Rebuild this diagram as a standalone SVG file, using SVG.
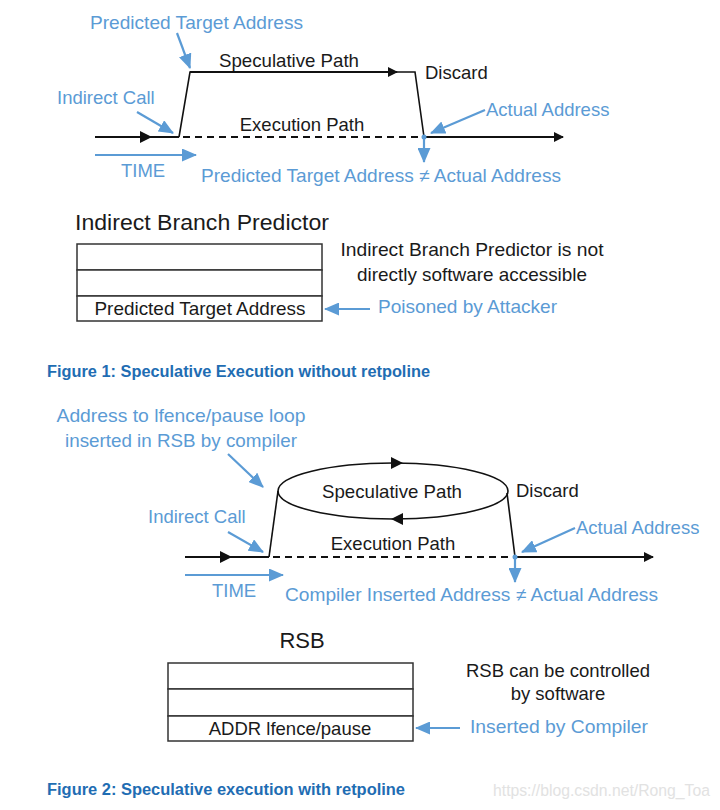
<svg xmlns="http://www.w3.org/2000/svg" width="720" height="810" viewBox="0 0 720 810">
<defs>
<style>
text{font-family:"Liberation Sans","DejaVu Sans",sans-serif;font-size:18.5px;fill:#1a1a1a}
.b{fill:#5b9bd5}
.t{font-size:22px}
.cap{font-weight:bold;font-size:16px;fill:#1f6db3}
.wm{font-size:16px;fill:#e2e2e2}
.k{stroke:#111;stroke-width:2;fill:none}
.kt{stroke:#111;stroke-width:1.6;fill:none}
.d{stroke:#111;stroke-width:2;fill:none;stroke-dasharray:7,5}
.bl{stroke:#5b9bd5;stroke-width:2.2;fill:none;marker-end:url(#ba)}
.ka{marker-end:url(#kb)}
.box{fill:#fff;stroke:#333;stroke-width:1.5}
</style>
<marker id="kb" markerWidth="10" markerHeight="10" refX="9" refY="5" orient="auto" markerUnits="userSpaceOnUse" viewBox="0 0 10 10"><path d="M0,0 L10,5 L0,10 z" fill="#111"/></marker>
<marker id="ba" markerWidth="15" markerHeight="13" refX="14" refY="6.5" orient="auto" markerUnits="userSpaceOnUse" viewBox="0 0 15 13"><path d="M0,0 L15,6.5 L0,13 z" fill="#5b9bd5"/></marker>
</defs>

<g id="connectors">
<!-- Figure 1 -->
<line class="k" x1="95" y1="137" x2="179" y2="137"/>
<path d="M140,131 L152,137 L140,143 z" fill="#111"/>
<polyline class="kt" points="179,137 190,72 205,72"/>
<line class="k ka" x1="190" y1="72" x2="397" y2="72"/>
<polyline class="kt" points="395,72 415,72 424,137"/>
<line class="d" x1="183" y1="137" x2="424" y2="137"/>
<line class="k ka" x1="424" y1="137" x2="563" y2="137"/>
<line class="bl" x1="177" y1="33" x2="190" y2="68"/>
<line class="bl" x1="137" y1="112" x2="173" y2="133"/>
<line class="bl" x1="485" y1="110" x2="431" y2="133"/>
<line class="bl" x1="424" y1="137" x2="424" y2="162"/>
<circle cx="424" cy="137" r="2.5" fill="#5b9bd5"/>
<line class="bl" x1="95" y1="155" x2="196" y2="155"/>
<line class="bl" x1="370" y1="309" x2="325" y2="309"/>
<!-- Figure 2 -->
<line class="k" x1="185" y1="557" x2="269" y2="557"/>
<path d="M220,551 L232,557 L220,563 z" fill="#111"/>
<polyline class="kt" points="269,557 278,491"/>
<ellipse cx="393" cy="491" rx="115" ry="28" class="kt"/>
<path d="M391,457 L403,463 L391,469 z" fill="#111"/>
<path d="M403,513 L391,519 L403,525 z" fill="#111"/>
<polyline class="kt" points="507,493 515,557"/>
<line class="d" x1="273" y1="557" x2="515" y2="557"/>
<line class="k ka" x1="515" y1="557" x2="653" y2="557"/>
<line class="bl" x1="228" y1="454" x2="263" y2="487"/>
<line class="bl" x1="228" y1="532" x2="263" y2="552"/>
<line class="bl" x1="575" y1="528" x2="522" y2="552"/>
<line class="bl" x1="515" y1="557" x2="515" y2="582"/>
<circle cx="515" cy="557" r="2.5" fill="#5b9bd5"/>
<line class="bl" x1="185" y1="575" x2="283" y2="575"/>
<line class="bl" x1="460" y1="728" x2="416" y2="728"/>
</g>

<g id="fig1-labels">
<text class="b" x="90" y="29" textLength="213" lengthAdjust="spacingAndGlyphs">Predicted Target Address</text>
<text x="289" y="67" text-anchor="middle" textLength="140" lengthAdjust="spacingAndGlyphs">Speculative Path</text>
<text x="425" y="79">Discard</text>
<text class="b" x="57" y="104">Indirect Call</text>
<text x="302" y="131" text-anchor="middle">Execution Path</text>
<text class="b" x="486" y="116">Actual Address</text>
<text class="b" x="121" y="177">TIME</text>
<text class="b" x="201" y="182" textLength="360" lengthAdjust="spacingAndGlyphs">Predicted Target Address ≠ Actual Address</text>
</g>

<g id="ibp">
<text class="t" x="75" y="230" textLength="254" lengthAdjust="spacingAndGlyphs">Indirect Branch Predictor</text>
<rect class="box" x="77" y="244" width="245" height="26"/>
<rect class="box" x="77" y="270" width="245" height="26"/>
<rect class="box" x="77" y="296" width="245" height="25"/>
<text x="200" y="315" text-anchor="middle" textLength="211" lengthAdjust="spacingAndGlyphs">Predicted Target Address</text>
</g>
<g id="ibp-note">
<text x="472" y="256" text-anchor="middle" textLength="263" lengthAdjust="spacingAndGlyphs">Indirect Branch Predictor is not</text>
<text x="472" y="281" text-anchor="middle" textLength="230" lengthAdjust="spacingAndGlyphs">directly software accessible</text>
<text class="b" x="378" y="313" textLength="179" lengthAdjust="spacingAndGlyphs">Poisoned by Attacker</text>
</g>
<text class="cap" x="47" y="377" textLength="383" lengthAdjust="spacingAndGlyphs">Figure 1: Speculative Execution without retpoline</text>

<g id="fig2-labels">
<text class="b" x="181" y="422" text-anchor="middle" textLength="249" lengthAdjust="spacingAndGlyphs">Address to lfence/pause loop</text>
<text class="b" x="181" y="447" text-anchor="middle" textLength="232" lengthAdjust="spacingAndGlyphs">inserted in RSB by compiler</text>
<text x="392" y="498" text-anchor="middle" textLength="140" lengthAdjust="spacingAndGlyphs">Speculative Path</text>
<text x="516" y="497">Discard</text>
<text class="b" x="148" y="523">Indirect Call</text>
<text class="b" x="576" y="534">Actual Address</text>
<text x="393" y="550" text-anchor="middle">Execution Path</text>
<text class="b" x="212" y="597">TIME</text>
<text class="b" x="285" y="601" textLength="373" lengthAdjust="spacingAndGlyphs">Compiler Inserted Address ≠ Actual Address</text>
</g>

<g id="rsb">
<text class="t" x="302" y="648" text-anchor="middle">RSB</text>
<rect class="box" x="168" y="663" width="245" height="26"/>
<rect class="box" x="168" y="689" width="245" height="27"/>
<rect class="box" x="168" y="716" width="245" height="25"/>
<text x="290" y="735" text-anchor="middle">ADDR lfence/pause</text>
</g>
<g id="rsb-note">
<text x="558" y="677" text-anchor="middle">RSB can be controlled</text>
<text x="558" y="700" text-anchor="middle">by software</text>
<text class="b" x="470" y="733" textLength="178" lengthAdjust="spacingAndGlyphs">Inserted by Compiler</text>
</g>
<text class="cap" x="47" y="795" textLength="358" lengthAdjust="spacingAndGlyphs">Figure 2: Speculative execution with retpoline</text>
<text class="wm" x="493" y="796" textLength="217" lengthAdjust="spacingAndGlyphs">https://blog.csdn.net/Rong_Toa</text>
</svg>
